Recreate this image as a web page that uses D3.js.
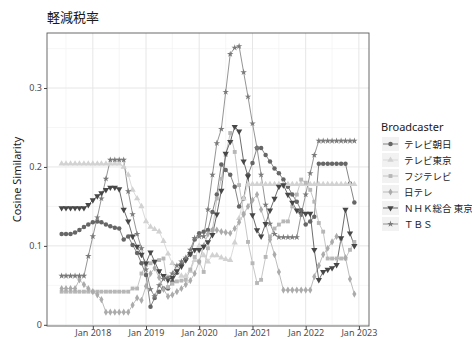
<!DOCTYPE html>
<html><head><meta charset="utf-8">
<script src="https://cdn.jsdelivr.net/npm/d3@7"></script>
<style>body{margin:0;background:#fff}svg{display:block;font-family:"Noto Sans CJK JP","Noto Sans",sans-serif}</style>
</head><body><svg id="c" width="472" height="339"></svg>
<script>
// ---------- data ----------
const chartTitle = "軽減税率";
const yTitle = "Cosine Similarity";
const legendTitle = "Broadcaster";
const broadcasters = ["テレビ朝日","テレビ東京","フジテレビ","日テレ","ＮＨＫ総合 東京","ＴＢＳ"];
const firstMonth = [2017, 5];   // June 2017
const lastMonth = [2022, 11];   // December 2022
const yTickValues = [0, 0.1, 0.2, 0.3];
const yTickLabels = ["0", "0.1", "0.2", "0.3"];
const xTickYears = [2018, 2019, 2020, 2021, 2022, 2023];
const xTickLabels = ["Jan 2018","Jan 2019","Jan 2020","Jan 2021","Jan 2022","Jan 2023"];

const asahi = [0.115,0.115,0.115,0.117,0.120,0.124,0.127,0.130,0.131,0.130,0.127,0.125,0.123,0.122,0.108,0.112,0.101,0.091,0.078,0.063,
  0.023,0.034,0.042,0.046,0.046,0.055,0.066,0.076,0.083,0.089,0.108,0.116,0.118,0.120,0.143,0.165,0.203,0.196,0.190,0.175,
  0.150,0.160,0.190,0.205,0.224,0.224,0.215,0.207,0.198,0.192,0.184,0.175,0.165,0.156,0.145,0.127,0.131,0.137,0.204,0.204,
  0.204,0.204,0.204,0.204,0.204,0.179,0.155];
const tvtokyo = [0.204,0.204,0.204,0.204,0.204,0.204,0.204,0.204,0.204,0.204,0.204,0.204,0.204,0.204,0.200,0.190,0.171,0.160,0.150,0.131,
  0.124,0.121,0.118,0.106,0.090,0.078,0.068,0.062,0.062,0.068,0.082,0.100,0.088,0.080,0.088,0.088,0.085,0.083,0.082,0.104,
  0.135,0.160,0.178,0.178,0.178,0.178,0.178,0.178,0.178,0.178,0.178,0.178,0.178,0.178,0.178,0.178,0.178,0.178,0.178,0.178,
  0.178,0.178,0.178,0.178,0.178,0.178,0.178];
const fuji = [0.042,0.042,0.042,0.042,0.042,0.042,0.042,0.042,0.042,0.042,0.042,0.042,0.042,0.042,0.042,0.042,0.046,0.046,0.065,0.076,
  0.078,0.080,0.082,0.084,0.048,0.052,0.055,0.056,0.057,0.070,0.086,0.080,0.067,0.097,0.120,0.160,0.185,0.215,0.243,0.219,
  0.177,0.141,0.105,0.078,0.053,0.057,0.086,0.112,0.122,0.127,0.131,0.131,0.150,0.165,0.184,0.180,0.171,0.156,0.129,0.118,
  0.084,0.084,0.084,0.084,0.084,0.095,0.105];
const ntv = [0.046,0.046,0.046,0.046,0.057,0.051,0.046,0.042,0.038,0.032,0.016,0.016,0.016,0.016,0.016,0.016,0.025,0.034,0.031,0.049,
  0.065,0.072,0.060,0.045,0.036,0.038,0.042,0.046,0.051,0.056,0.065,0.080,0.100,0.115,0.120,0.120,0.118,0.117,0.116,0.122,
  0.130,0.140,0.150,0.158,0.165,0.146,0.128,0.108,0.089,0.067,0.044,0.044,0.044,0.044,0.044,0.044,0.044,0.061,0.075,0.089,
  0.097,0.105,0.112,0.108,0.085,0.058,0.039];
const nhk = [0.148,0.148,0.148,0.148,0.148,0.148,0.152,0.158,0.163,0.167,0.171,0.174,0.174,0.172,0.146,0.131,0.112,0.099,0.089,0.078,
  0.092,0.080,0.068,0.062,0.057,0.060,0.068,0.074,0.082,0.090,0.095,0.095,0.099,0.105,0.114,0.140,0.170,0.217,0.232,0.251,
  0.245,0.207,0.188,0.139,0.120,0.112,0.128,0.145,0.160,0.175,0.177,0.165,0.155,0.145,0.141,0.141,0.141,0.095,0.057,0.067,
  0.070,0.072,0.076,0.110,0.146,0.116,0.100];
const tbs = [0.062,0.062,0.062,0.062,0.062,0.062,0.087,0.112,0.136,0.160,0.185,0.209,0.209,0.209,0.209,0.169,0.140,0.115,0.097,0.070,
  0.045,0.036,0.050,0.058,0.060,0.065,0.075,0.080,0.085,0.095,0.110,0.112,0.112,0.146,0.190,0.230,0.248,0.295,0.343,0.351,
  0.353,0.320,0.289,0.255,0.224,0.190,0.152,0.128,0.115,0.111,0.111,0.111,0.111,0.111,0.140,0.165,0.192,0.215,0.233,0.233,
  0.233,0.233,0.233,0.233,0.233,0.233,0.233];
const seriesValues = [asahi, tvtokyo, fuji, ntv, nhk, tbs];

// ---------- style ----------
const colors = ["#666666","#d2d2d2","#b7b7b7","#ababab","#474747","#7a7a7a"];
const shapes = [d3.symbolCircle, d3.symbolTriangle, d3.symbolSquare, d3.symbolDiamond, d3.symbolTriangle, d3.symbolStar];
const sizes = [16, 17, 15, 15, 17, 13];
const rotations = [0, 0, 0, 0, 180, 0];

const panel = {left: 47, right: 369, top: 33, bottom: 326};
const svg = d3.select("#c");

const months = d3.timeMonth.range(new Date(firstMonth[0], firstMonth[1], 1), new Date(lastMonth[0], lastMonth[1] + 1, 1));
const t0 = months[0], t1 = months[months.length - 1];
const pad = (t1 - t0) * 0.05;
const x = d3.scaleTime().domain([new Date(+t0 - pad), new Date(+t1 + pad)]).range([panel.left, panel.right]);
const y = d3.scaleLinear().domain([-0.0015, 0.3697]).range([panel.bottom, panel.top]);

// panel background + grid
const g = svg.append("g");
g.append("rect").attr("x", panel.left).attr("y", panel.top)
  .attr("width", panel.right - panel.left).attr("height", panel.bottom - panel.top).attr("fill", "#fff");

const minorY = [0.05, 0.15, 0.25, 0.35];
const minorX = [2017, 2018, 2019, 2020, 2021, 2022].map(yy => new Date(yy, 6, 1));
g.selectAll(".gmy").data(minorY).join("line")
  .attr("x1", panel.left).attr("x2", panel.right)
  .attr("y1", d => y(d)).attr("y2", d => y(d))
  .attr("stroke", "#f2f2f2").attr("stroke-width", 0.7);
g.selectAll(".gmx").data(minorX).join("line")
  .attr("y1", panel.top).attr("y2", panel.bottom)
  .attr("x1", d => x(d)).attr("x2", d => x(d))
  .attr("stroke", "#f2f2f2").attr("stroke-width", 0.7);
g.selectAll(".gy").data(yTickValues).join("line")
  .attr("x1", panel.left).attr("x2", panel.right)
  .attr("y1", d => y(d)).attr("y2", d => y(d))
  .attr("stroke", "#e6e6e6").attr("stroke-width", 1);
const xTickDates = xTickYears.map(yy => new Date(yy, 0, 1));
g.selectAll(".gx").data(xTickDates).join("line")
  .attr("y1", panel.top).attr("y2", panel.bottom)
  .attr("x1", d => x(d)).attr("x2", d => x(d))
  .attr("stroke", "#e6e6e6").attr("stroke-width", 1);

// lines
const line = d3.line().x((d, i) => x(months[i])).y(d => y(d));
seriesValues.forEach((vals, k) => {
  svg.append("path").attr("d", line(vals)).attr("fill", "none")
    .attr("stroke", colors[k]).attr("stroke-width", 0.8);
});
// points
seriesValues.forEach((vals, k) => {
  const sym = d3.symbol().type(shapes[k]).size(sizes[k]);
  svg.append("g").selectAll("path").data(vals).join("path")
    .attr("d", sym)
    .attr("transform", (d, i) => `translate(${x(months[i])},${y(d)}) rotate(${rotations[k]})`)
    .attr("fill", colors[k]);
});

// border
svg.append("rect").attr("x", panel.left).attr("y", panel.top)
  .attr("width", panel.right - panel.left).attr("height", panel.bottom - panel.top)
  .attr("fill", "none").attr("stroke", "#5a5a5a").attr("stroke-width", 0.9);

// axes
const yAxis = d3.axisLeft(y).tickValues(yTickValues).tickFormat((d, i) => yTickLabels[i]).tickSize(3).tickPadding(2);
const ya = svg.append("g").attr("transform", `translate(${panel.left},0)`).call(yAxis);
ya.select(".domain").remove();
ya.selectAll("line").attr("stroke", "#444");
ya.selectAll("text").attr("fill", "#4d4d4d").style("font-size", "9px").style("font-family", "'Noto Sans','DejaVu Sans',sans-serif");

const xAxis = d3.axisBottom(x).tickValues(xTickDates).tickFormat((d, i) => xTickLabels[i]).tickSize(3).tickPadding(1);
const xa = svg.append("g").attr("transform", `translate(0,${panel.bottom})`).call(xAxis);
xa.select(".domain").remove();
xa.selectAll("line").attr("stroke", "#444");
xa.selectAll("text").attr("fill", "#4d4d4d").style("font-size", "9px").style("font-family", "'Noto Sans','DejaVu Sans',sans-serif");

// titles
svg.append("text").attr("x", 47).attr("y", 22).text(chartTitle)
  .attr("fill", "#1a1a1a").style("font-size", "13px");
svg.append("text").attr("transform", `translate(21,${(panel.top + panel.bottom) / 2}) rotate(-90)`)
  .attr("text-anchor", "middle").text(yTitle).attr("fill", "#1a1a1a")
  .style("font-size", "11px").style("font-family", "'Noto Sans',sans-serif");

// legend
const lg = svg.append("g");
lg.append("text").attr("x", 381).attr("y", 131).text(legendTitle)
  .attr("fill", "#1a1a1a").style("font-size", "11px").style("font-family", "'Noto Sans',sans-serif");
broadcasters.forEach((name, k) => {
  const cy = 144 + k * 16;
  lg.append("rect").attr("x", 382).attr("y", cy - 7).attr("width", 17).attr("height", 14).attr("fill", "#f2f2f2");
  lg.append("line").attr("x1", 383).attr("x2", 398).attr("y1", cy).attr("y2", cy)
    .attr("stroke", colors[k]).attr("stroke-width", 0.8);
  lg.append("path").attr("d", d3.symbol().type(shapes[k]).size(sizes[k])())
    .attr("transform", `translate(390.5,${cy}) rotate(${rotations[k]})`).attr("fill", colors[k]);
  lg.append("text").attr("x", 404).attr("y", cy + 3.5).text(name)
    .attr("fill", "#1a1a1a").style("font-size", "9.5px");
});
</script></body></html>
